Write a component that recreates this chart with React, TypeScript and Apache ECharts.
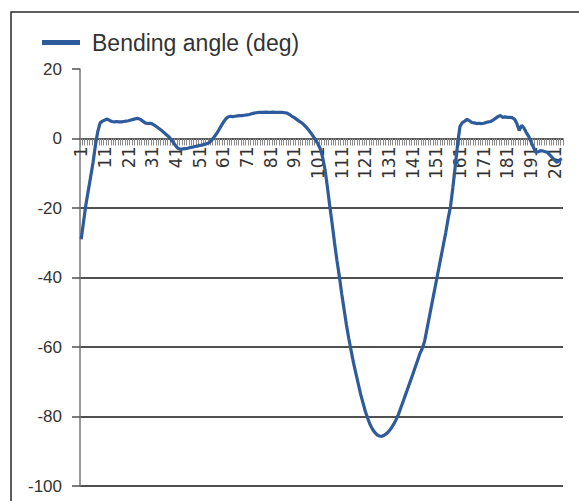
import React, { useEffect, useRef } from "react";
import * as echarts from "echarts";

// Sample index along the bending test (1..204)
const categories: string[] = Array.from({ length: 204 }, (_, i) => String(i + 1));

// Bending angle in degrees, one value per sample
const bendingAngle: number[] = [
  -29, -24, -19, -15, -11, -7, -2, 2, 4.5, 5.0,
  5.3, 5.6, 5.2, 4.9, 4.8, 4.9, 4.8, 4.8, 4.9, 5.0,
  5.1, 5.3, 5.5, 5.7, 5.8, 5.5, 5.0, 4.5, 4.3, 4.4,
  4.2, 3.8, 3.3, 2.8, 2.3, 1.7, 1.1, 0.5, -0.3, -1.2,
  -2.2, -2.9, -3.1, -3.0, -2.9, -2.8, -2.6, -2.5, -2.3, -2.2,
  -2.0, -1.9, -1.7, -1.5, -1.2, -0.6, 0.3, 1.2, 2.3, 3.5,
  4.6, 5.6, 6.2, 6.4, 6.3, 6.4, 6.5, 6.6, 6.6, 6.7,
  6.8, 6.9, 7.1, 7.3, 7.4, 7.5, 7.5, 7.5, 7.6, 7.5,
  7.5, 7.6, 7.5, 7.5, 7.5, 7.5, 7.4, 7.3, 6.9, 6.4,
  6.0, 5.5, 5.0, 4.6, 4.0, 3.3, 2.5, 1.6, 0.6, -0.4,
  -1.6, -3.0, -5.5, -9, -14, -19.5, -24.5, -30, -35, -39.5,
  -44.5, -49, -53.5, -57.5, -61, -64.5, -67.5, -70.5, -73.5, -76,
  -78.5, -80.5, -82.3, -83.6, -84.6, -85.3, -85.6, -85.7, -85.4, -84.9,
  -84.2, -83.3, -82.2, -80.9, -79.4, -77.5, -75.6, -73.7, -71.8, -69.9,
  -68, -66, -64, -62, -60.5, -58.5, -55, -51.5, -48, -44.5,
  -41, -37.5, -34, -30.5, -27, -23, -19.5, -14, -8, -1.5,
  3.5, 4.6, 5.0, 5.5, 5.1, 4.6, 4.5, 4.3, 4.4, 4.3,
  4.4, 4.6, 4.8, 4.9, 5.3, 5.8, 6.3, 6.6, 6.1, 6.2,
  6.1, 6.1, 6.0, 5.6, 4.3, 2.3, 3.8, 3.0, 1.7, 0.6,
  -1.0, -2.5, -4.0, -3.8, -3.5, -3.6, -3.8, -4.0, -4.8, -5.5,
  -6.3, -6.9, -6.2, -5.8,
];

const seriesName = "Bending angle (deg)";
const yMin = -100;
const yMax = 20;
const yStep = 20;

const LINE_BLUE = "#2e5b9b";
const GRID_GREY = "#505050";

// plot box inside the 579x501 canvas
const GRID_TOP = 69;
const GRID_BOTTOM = 15;
const CHART_H = 501;

export default function App() {
  const ref = useRef<HTMLDivElement>(null);

  useEffect(() => {
    if (!ref.current) return;
    const chart = echarts.init(ref.current, null, { renderer: "svg" });

    // one split-line colour per tick from the bottom up; the top one stays hidden
    const tickCount = (yMax - yMin) / yStep + 1;
    const splitColors = Array.from({ length: tickCount }, (_, i) =>
      i === tickCount - 1 ? "rgba(0,0,0,0)" : GRID_GREY
    );

    // lift the category axis (line, ticks and labels) up to the zero level
    const plotH = CHART_H - GRID_TOP - GRID_BOTTOM;
    const zeroFromBottom = ((0 - yMin) / (yMax - yMin)) * plotH;

    chart.setOption({
      animation: false,
      backgroundColor: "#ffffff",
      graphic: [
        {
          type: "rect",
          shape: { x: 11, y: 12, width: 620, height: 560 },
          style: { fill: "none", stroke: "#2a2a2a", lineWidth: 1.5 },
          silent: true,
        },
      ],
      legend: {
        left: 37,
        top: 26,
        icon: "rect",
        itemWidth: 38,
        itemHeight: 5,
        data: [seriesName],
        textStyle: {
          fontSize: 23,
          color: "#333333",
          fontFamily: "Liberation Sans, Arial, sans-serif",
          padding: [0, 0, 0, 7],
        },
      },
      grid: {
        left: 80,
        right: 16,
        top: GRID_TOP,
        bottom: GRID_BOTTOM,
        containLabel: false,
        outerBoundsMode: "none",
      },
      xAxis: {
        type: "category",
        data: categories,
        boundaryGap: true,
        position: "bottom",
        offset: -zeroFromBottom,
        axisLine: { onZero: false, lineStyle: { color: "#5a5a5a", width: 1.5 } },
        axisTick: {
          show: true,
          interval: 0,
          length: 7,
          lineStyle: { color: "#8a8a8a", width: 1 },
        },
        axisLabel: {
          interval: 9,
          rotate: 90,
          margin: 8,
          fontSize: 17,
          color: "#333333",
          fontFamily: "DejaVu Sans, sans-serif",
          padding: [7, 0, 0, 0],
        },
        splitLine: { show: false },
      },
      yAxis: {
        type: "value",
        min: yMin,
        max: yMax,
        interval: yStep,
        axisLine: { show: true, lineStyle: { color: "#777777", width: 1.5 } },
        axisTick: { show: true, length: 8, lineStyle: { color: "#505050", width: 1.5 } },
        axisLabel: {
          margin: 18,
          fontSize: 17,
          color: "#333333",
          fontFamily: "Liberation Sans, Arial, sans-serif",
        },
        splitLine: { show: true, lineStyle: { color: splitColors, width: 2 } },
      },
      series: [
        {
          name: seriesName,
          type: "line",
          data: bendingAngle,
          showSymbol: false,
          smooth: false,
          lineStyle: { color: LINE_BLUE, width: 3.2 },
          itemStyle: { color: LINE_BLUE },
        },
      ],
    });

    return () => chart.dispose();
  }, []);

  return (
    <div
      ref={ref}
      style={{ position: "absolute", left: 0, top: 0, width: 579, height: 501 }}
    />
  );
}
